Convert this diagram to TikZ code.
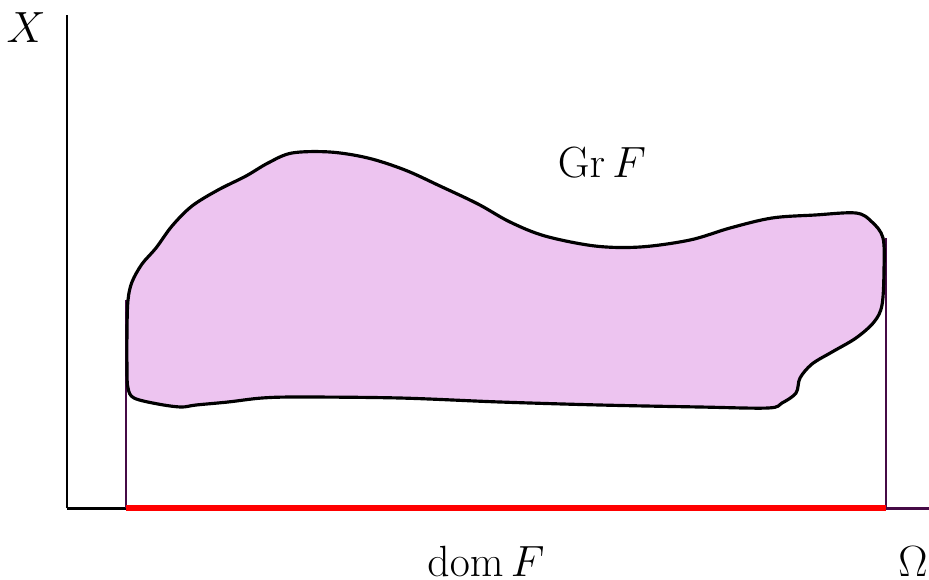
\documentclass[tikz,border=0pt]{standalone}
\usepackage{amsmath}
\usetikzlibrary{positioning}

\definecolor{grfill}{RGB}{237,196,240}
\definecolor{vline}{RGB}{70,10,70}

\begin{document}
\begin{tikzpicture}[
      x=0.02cm,y=-0.02cm,
      every node/.style={font=\fontsize{24.88}{30}\selectfont,inner sep=0pt},
      axis/.style={line width=1.7pt,black},
      domline/.style={line width=3.4pt,red},
      bound/.style={line width=1.4pt,vline},
      graph/.style={line width=1.8pt,black,fill=grfill},
    ]
      \path[use as bounding box,clip] (0,0) rectangle (929,579);

      \coordinate (O)    at (67,508);
      \coordinate (ytop) at (67,15);
      \coordinate (xend) at (935,508);
      \coordinate (a)    at (126,508);
      \coordinate (b)    at (886,508);
      \coordinate (atop) at (126,300);
      \coordinate (btop) at (886,238);

      % axes
      \draw[axis] (O)--(ytop);
      \draw[axis] (O)--(a);
      \draw[bound,line width=1.7pt] (b)--(xend);
      \draw[bound] (a)--(atop);
      \draw[bound] (b)--(btop);

      % the graph
      \draw[graph] plot[smooth cycle,tension=0.55] coordinates {
        (127,330) (128,300) (132,282) (142,264) (156,248) (172,226)
        (192,206) (218,190) (246,176) (268,163) (292,153) (330,152)
        (368,158) (405,170) (440,186) (478,204) (510,222) (545,236)
        (595,246) (640,247) (690,240) (730,228) (772,218) (815,215)
        (856,213) (872,222) (883,238) (884,270) (882,305) (874,322)
        (856,338) (832,352) (812,364) (800,378) (796,393) (782,403)
        (768,408) (700,407) (600,405) (500,402) (400,398) (300,397)
        (262,398) (228,402) (196,405) (181,407) (158,404) (134,398)
        (128,388) (127,370)};

      \draw[domline] (a)--(b);

      \node (xlab)  at (26,28)        {$X$};
      \node (grlab) at (602,163)      {$\mathrm{Gr}\,F$};
      \node[anchor=base] (domlab) at (486,576) {$\mathrm{dom}\,F$};
      \node[anchor=base] (omlab)  at (913,576) {$\Omega$};
    \end{tikzpicture}
\end{document}
